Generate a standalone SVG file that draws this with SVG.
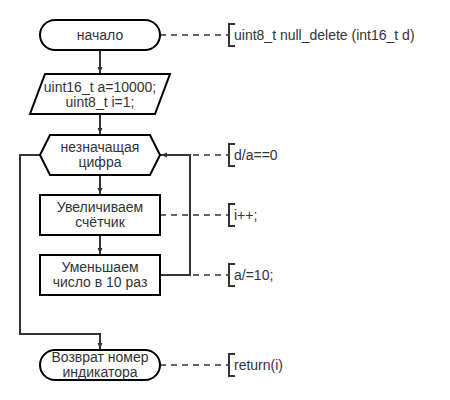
<svg xmlns="http://www.w3.org/2000/svg" width="450" height="400" viewBox="0 0 450 400">
<defs>
<marker id="arr" markerWidth="8" markerHeight="8" refX="7" refY="4" orient="auto" markerUnits="userSpaceOnUse">
<path d="M1,1.5 L7,4 L1,6.5 Z" fill="#333"/>
</marker>
<style>
.s{fill:#fff;stroke:#000;stroke-width:2}
.c{fill:none;stroke:#333;stroke-width:2}
.d{fill:none;stroke:#333;stroke-width:1.5;stroke-dasharray:6 5}
.b{fill:none;stroke:#333;stroke-width:2}
text{font-family:"Liberation Sans",Arial,sans-serif;font-size:14px;fill:#333}
.m{text-anchor:middle}
</style>
</defs>
<rect width="450" height="400" fill="#fff"/>
<g id="connectors">
<line class="d" x1="160" y1="35" x2="228" y2="35"/>
<line class="d" x1="160" y1="155" x2="228" y2="155"/>
<line class="d" x1="160" y1="215" x2="228" y2="215"/>
<line class="d" x1="160" y1="275" x2="228" y2="275"/>
<line class="d" x1="160" y1="365" x2="228" y2="365"/>
<line class="c" x1="100" y1="50" x2="100" y2="73" marker-end="url(#arr)"/>
<line class="c" x1="100" y1="114" x2="100" y2="134" marker-end="url(#arr)"/>
<line class="c" x1="100" y1="175" x2="100" y2="194" marker-end="url(#arr)"/>
<line class="c" x1="100" y1="235" x2="100" y2="254" marker-end="url(#arr)"/>
<polyline class="c" points="160,275 190,275 190,155 161,155" marker-end="url(#arr)"/>
<polyline class="c" points="40,155 20,155 20,334 100,334 100,349" marker-end="url(#arr)"/>
</g>
<g id="start">
<rect class="s" x="40" y="20" width="120" height="30" rx="15"/>
<text class="m" x="100" y="40">начало</text>
</g>
<g id="init">
<polygon class="s" points="45,74 170,74 155,114 30,114"/>
<text class="m" x="100" y="91.5">uint16_t a=10000;</text>
<text class="m" x="100" y="106.5">uint8_t i=1;</text>
</g>
<g id="loop">
<polygon class="s" points="40,155 50,135 150,135 160,155 150,175 50,175"/>
<text class="m" x="100" y="151.5">незначащая</text>
<text class="m" x="100" y="166.5">цифра</text>
</g>
<g id="inc">
<rect class="s" x="40" y="195" width="120" height="40"/>
<text class="m" x="100" y="211.5">Увеличиваем</text>
<text class="m" x="100" y="226.5">счётчик</text>
</g>
<g id="div">
<rect class="s" x="40" y="255" width="120" height="40"/>
<text class="m" x="100" y="271.5">Уменьшаем</text>
<text class="m" x="100" y="286.5">число в 10 раз</text>
</g>
<g id="end">
<rect class="s" x="40" y="350" width="120" height="30" rx="15"/>
<text class="m" x="100" y="361.5">Возврат номер</text>
<text class="m" x="100" y="376.5">индикатора</text>
</g>
<g id="note1">
<path class="b" d="M235,24 H229 V46 H235"/>
<text x="234" y="40">uint8_t null_delete (int16_t d)</text>
</g>
<g id="note2">
<path class="b" d="M235,144 H229 V166 H235"/>
<text x="234" y="160">d/a==0</text>
</g>
<g id="note3">
<path class="b" d="M235,204 H229 V226 H235"/>
<text x="234" y="220">i++;</text>
</g>
<g id="note4">
<path class="b" d="M235,264 H229 V286 H235"/>
<text x="234" y="280">a/=10;</text>
</g>
<g id="note5">
<path class="b" d="M235,354 H229 V376 H235"/>
<text x="234" y="370">return(i)</text>
</g>
</svg>
